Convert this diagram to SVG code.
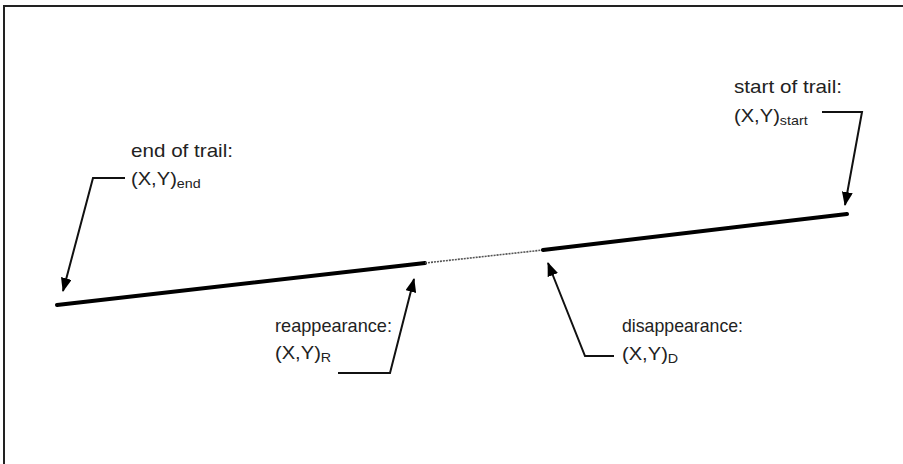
<svg xmlns="http://www.w3.org/2000/svg" width="903" height="464" viewBox="0 0 903 464">
<style>
.lbl{font-family:"Liberation Sans",Arial,sans-serif;font-size:19px;fill:#222}
.sub{font-size:13.5px}
.ptr{fill:none;stroke:#111;stroke-width:2}
.trail{stroke:#000;stroke-width:4;stroke-linecap:round}
</style>
<defs>
<marker id="ah" markerWidth="14" markerHeight="11" refX="13" refY="5.5" orient="auto" markerUnits="userSpaceOnUse">
<path d="M0,0 L14,5.5 L0,11 Z" fill="#000"/>
</marker>
</defs>
<rect x="0" y="0" width="903" height="464" fill="#fff"/>
<path d="M4,464 V6 H903" fill="none" stroke="#222" stroke-width="2"/>
<g id="trail">
<line class="trail" x1="57" y1="305" x2="425" y2="263"/>
<line x1="425" y1="263" x2="543" y2="250" stroke="#555" stroke-width="1.6" stroke-dasharray="2,1"/>
<line class="trail" x1="543" y1="250" x2="847" y2="214"/>
</g>
<g id="end">
<text class="lbl" x="131" y="157" textLength="102" lengthAdjust="spacingAndGlyphs">end of trail:</text>
<text class="lbl" transform="translate(131,185) scale(1.06,1)">(X,Y)<tspan class="sub" dy="3">end</tspan></text>
</g>
<g id="start">
<text class="lbl" x="734" y="93" textLength="108" lengthAdjust="spacingAndGlyphs">start of trail:</text>
<text class="lbl" transform="translate(734,122) scale(1.06,1)">(X,Y)<tspan class="sub" dy="3">start</tspan></text>
</g>
<g id="reappearance">
<text class="lbl" x="275" y="332" textLength="117" lengthAdjust="spacingAndGlyphs">reappearance:</text>
<text class="lbl" transform="translate(275,359) scale(1.06,1)">(X,Y)<tspan class="sub" dy="3">R</tspan></text>
</g>
<g id="disappearance">
<text class="lbl" x="622" y="332" textLength="121" lengthAdjust="spacingAndGlyphs">disappearance:</text>
<text class="lbl" transform="translate(622,360) scale(1.06,1)">(X,Y)<tspan class="sub" dy="3">D</tspan></text>
</g>
<g id="connectors">
<polyline class="ptr" points="125,178 93,178 63,291" marker-end="url(#ah)"/>
<polyline class="ptr" points="822,112 862,112 845,205" marker-end="url(#ah)"/>
<polyline class="ptr" points="338,373 390,373 414,279" marker-end="url(#ah)"/>
<polyline class="ptr" points="614,356 585,356 548,263" marker-end="url(#ah)"/>
</g>
</svg>
